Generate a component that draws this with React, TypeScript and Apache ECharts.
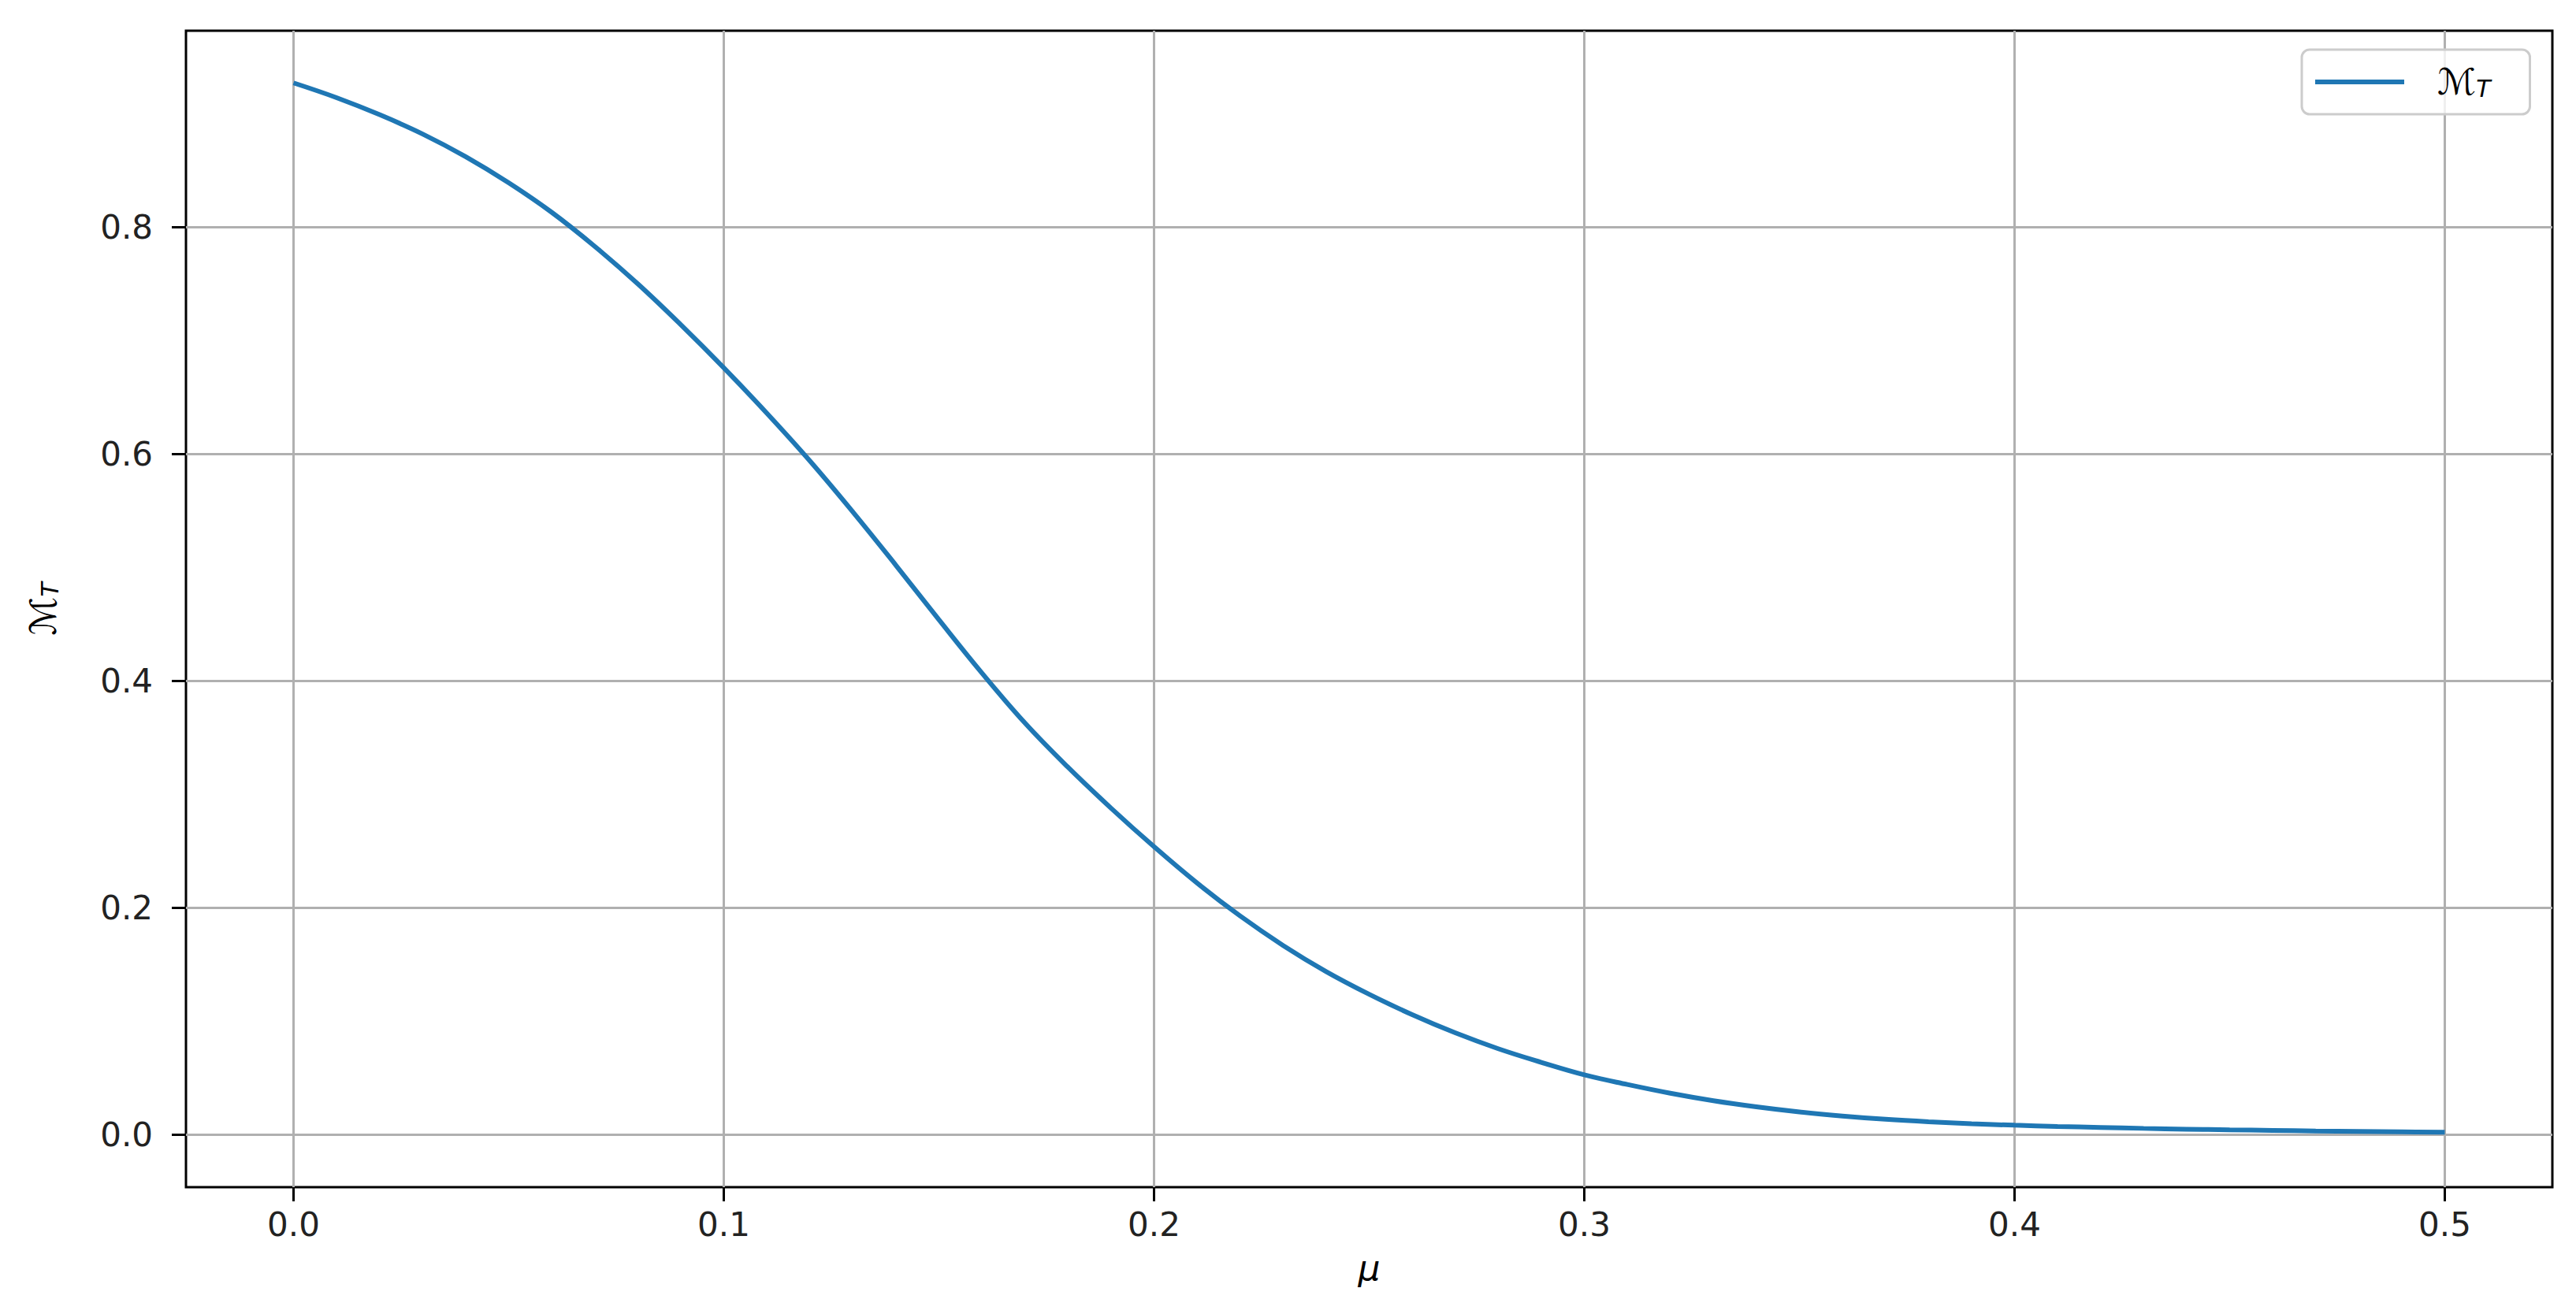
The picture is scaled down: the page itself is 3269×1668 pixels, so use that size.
import React, { useEffect, useRef } from "react";
import * as echarts from "echarts";

// mu sample points and the M_T values
const muValues = [
  0.0, 0.01, 0.02, 0.03, 0.04, 0.05, 0.06, 0.07, 0.08, 0.09,
  0.1, 0.11, 0.12, 0.13, 0.14, 0.15, 0.16, 0.17, 0.18, 0.19,
  0.2, 0.21, 0.22, 0.23, 0.24, 0.25, 0.26, 0.27, 0.28, 0.29,
  0.3, 0.31, 0.32, 0.33, 0.34, 0.35, 0.36, 0.37, 0.38, 0.39,
  0.4, 0.41, 0.42, 0.43, 0.44, 0.45, 0.46, 0.47, 0.48, 0.49, 0.5,
];

const mtValues = [
  0.927, 0.914, 0.899, 0.882, 0.862, 0.839, 0.813, 0.783, 0.75, 0.714,
  0.676, 0.636, 0.594, 0.549, 0.502, 0.454, 0.407, 0.363, 0.324, 0.288,
  0.254, 0.222, 0.193, 0.167, 0.144, 0.124, 0.106, 0.09, 0.076, 0.064,
  0.053, 0.0445, 0.0368, 0.0302, 0.0248, 0.0203, 0.0167, 0.0138, 0.0116, 0.0099,
  0.0086, 0.0075, 0.0066, 0.0058, 0.0051, 0.0045, 0.004, 0.0035, 0.0031, 0.0027, 0.0024,
];

const xTicks = [0.0, 0.1, 0.2, 0.3, 0.4, 0.5];
const yTicks = [0.0, 0.2, 0.4, 0.6, 0.8];

const seriesName = "M_T";
const FONT = "DejaVu Sans";
const BLUE = "#1f77b4";

// rich styles for the calligraphic M with subscript T
const mathRich = {
  g: { width: 37 },
  m: { fontFamily: FONT, fontSize: 46, color: "#000" },
  t: {
    fontFamily: FONT,
    fontSize: 30,
    fontStyle: "italic",
    color: "#000",
    padding: [16, 0, 0, 0],
  },
};

const App: React.FC = () => {
  const chartRef = useRef<HTMLDivElement>(null);

  useEffect(() => {
    if (!chartRef.current) return;
    const chart = echarts.init(chartRef.current, null, { renderer: "svg" });

    const option = {
      animation: false,
      backgroundColor: "#fff",
      textStyle: { fontFamily: FONT },
      grid: {
        left: 236,
        right: 30,
        top: 39,
        bottom: 161,
        show: true,
        borderColor: "#000",
        borderWidth: 3,
        backgroundColor: "transparent",
      },
      legend: {
        left: 2921,
        top: 63,
        orient: "horizontal",
        itemWidth: 113,
        itemHeight: 6,
        padding: [18, 50, 18, 17],
        backgroundColor: "rgba(255,255,255,0.8)",
        borderColor: "#cccccc",
        borderWidth: 3,
        borderRadius: 10,
        data: [{ name: seriesName, icon: "path://M0,0 L113,0 L113,6 L0,6 Z" }],
        itemStyle: { color: BLUE },
        formatter: () => "{g|}{m|ℳ}{t|T}",
        textStyle: { rich: mathRich },
      },
      xAxis: {
        type: "value",
        min: -0.025,
        max: 0.525,
        name: "μ",
        nameLocation: "middle",
        nameGap: 80,
        nameTextStyle: {
          fontFamily: FONT,
          fontSize: 44,
          fontStyle: "italic",
          color: "#000",
        },
        axisLine: { show: false, onZero: false },
        axisTick: {
          show: true,
          inside: false,
          length: 18,
          customValues: xTicks,
          lineStyle: { color: "#000", width: 3 },
        },
        axisLabel: {
          customValues: xTicks,
          margin: 26,
          fontSize: 42,
          color: "#222",
          formatter: (v: number) => v.toFixed(1),
        },
        splitLine: {
          show: true,
          lineStyle: { color: "#b0b0b0", width: 3 },
        },
      },
      yAxis: {
        type: "value",
        min: -0.046,
        max: 0.973,
        name: "{m|ℳ}{t|T}",
        nameLocation: "middle",
        nameGap: 158,
        nameTextStyle: { rich: mathRich },
        axisLine: { show: false, onZero: false },
        axisTick: {
          show: true,
          inside: false,
          length: 18,
          customValues: yTicks,
          lineStyle: { color: "#000", width: 3 },
        },
        axisLabel: {
          customValues: yTicks,
          margin: 42,
          fontSize: 42,
          color: "#222",
          formatter: (v: number) => v.toFixed(1),
        },
        splitLine: {
          show: true,
          lineStyle: { color: "#b0b0b0", width: 3 },
        },
      },
      series: [
        {
          name: seriesName,
          type: "line",
          smooth: 0.4,
          symbol: "none",
          data: muValues.map((mu, i) => [mu, mtValues[i]]),
          lineStyle: { color: BLUE, width: 6 },
          itemStyle: { color: BLUE },
          z: 3,
        },
      ],
    };

    chart.setOption(option);

    const handleResize = () => chart.resize();
    window.addEventListener("resize", handleResize);

    return () => {
      window.removeEventListener("resize", handleResize);
      chart.dispose();
    };
  }, []);

  return (
    <div
      ref={chartRef}
      style={{
        position: "fixed",
        left: 0,
        top: 0,
        width: "100vw",
        height: "100vh",
        background: "#fff",
      }}
    />
  );
};

export default App;
